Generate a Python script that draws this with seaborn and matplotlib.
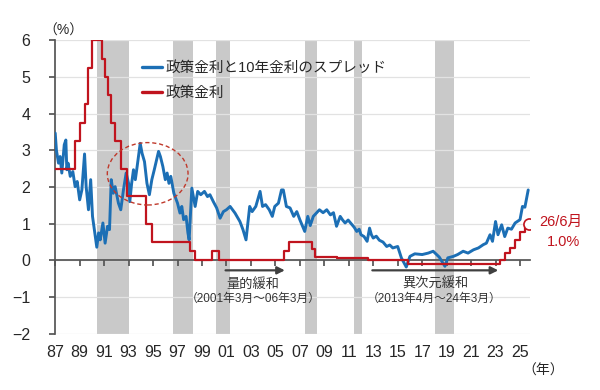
import matplotlib
matplotlib.use('Agg')
import matplotlib.pyplot as plt
from matplotlib.patches import Ellipse
import seaborn as sns
import pandas as pd

sns.set_theme(style="white")
plt.rcParams['font.family'] = ['Liberation Sans', 'Noto Sans CJK JP', 'DejaVu Sans']

# spread between policy rate and 10y yield (year, %)
spread_year = [
    1987.0, 1987.1, 1987.27, 1987.4, 1987.54, 1987.74, 1987.87, 1987.95, 1988.05, 1988.23,
    1988.44, 1988.63, 1988.8, 1989.0, 1989.18, 1989.4, 1989.53, 1989.72, 1989.9, 1990.05,
    1990.2, 1990.4, 1990.55, 1990.68, 1990.9, 1991.08, 1991.28, 1991.44, 1991.58, 1991.75,
    1991.9, 1992.17, 1992.36, 1992.58, 1992.8, 1993.0, 1993.1, 1993.25, 1993.4, 1993.55,
    1993.7, 1993.95, 1994.1, 1994.3, 1994.5, 1994.7, 1994.9, 1995.1, 1995.45, 1995.6,
    1995.8, 1996.0, 1996.15, 1996.3, 1996.45, 1996.7, 1997.0, 1997.2, 1997.35, 1997.5,
    1997.7, 1997.85, 1997.95, 1998.17, 1998.44, 1998.65, 1998.9, 1999.2, 1999.45, 1999.65,
    1999.93, 2000.2, 2000.48, 2000.75, 2001.0, 2001.3, 2001.7, 2002.1, 2002.35, 2002.6,
    2002.9, 2003.1, 2003.4, 2003.75, 2003.95, 2004.2, 2004.5, 2004.75, 2004.95, 2005.25,
    2005.5, 2005.65, 2005.9, 2006.2, 2006.5, 2006.75, 2007.0, 2007.4, 2007.65, 2007.85,
    2008.1, 2008.6, 2008.9, 2009.2, 2009.5, 2009.75, 2010.0, 2010.3, 2010.5, 2010.7,
    2010.95, 2011.2, 2011.45, 2011.65, 2011.85, 2012.0, 2012.25, 2012.5, 2012.7, 2012.85,
    2013.0, 2013.25, 2013.5, 2013.8, 2014.1, 2014.35, 2014.6, 2015.0, 2015.3, 2015.7,
    2016.0, 2016.4, 2017.0, 2017.5, 2017.9, 2018.4, 2018.86, 2019.1, 2019.55, 2019.9,
    2020.35, 2020.75, 2021.2, 2021.6, 2022.0, 2022.25, 2022.55, 2022.75, 2023.0, 2023.2,
    2023.5, 2023.75, 2024.0, 2024.3, 2024.6, 2025.0, 2025.2, 2025.4, 2025.67,
]
spread_value = [
    3.47, 3.0, 2.65, 2.83, 2.38, 3.15, 3.28, 2.47, 2.65, 2.29,
    2.42, 2.01, 2.15, 1.65, 1.92, 2.9, 2.01, 1.38, 2.2, 1.2,
    0.84, 0.36, 0.75, 0.56, 1.02, 0.47, 0.93, 0.84, 2.2, 1.83,
    2.01, 1.56, 1.38, 1.92, 2.38, 2.1, 1.6, 2.1, 2.47, 2.2,
    2.56, 3.19, 2.92, 2.69, 2.1, 1.79, 2.2, 2.47, 2.97, 2.83,
    2.56, 2.2, 2.38, 2.1, 2.29, 1.83, 1.56, 1.29, 1.47, 1.11,
    1.2, 0.75, 0.56, 1.97, 1.47, 1.88, 1.79, 1.88, 1.74, 1.79,
    1.6, 1.43, 1.15, 1.33, 1.38, 1.47, 1.29, 1.06, 0.84, 0.56,
    1.47, 1.33, 1.47, 1.88, 1.47, 1.52, 1.38, 1.2, 1.47, 1.56,
    1.92, 1.92, 1.47, 1.43, 1.2, 1.33, 1.11, 0.79, 1.2, 0.95,
    1.2, 1.38, 1.3, 1.38, 1.24, 1.3, 0.93, 1.2, 1.1, 1.02,
    1.1, 1.0, 0.9, 0.79, 0.85, 0.7, 0.65, 0.52, 0.88, 0.7,
    0.61, 0.66, 0.55, 0.5, 0.38, 0.42, 0.34, 0.38, 0.07, -0.18,
    0.11, 0.18, 0.16, 0.2, 0.25, 0.09, -0.16, 0.07, 0.11, 0.16,
    0.25, 0.2, 0.29, 0.34, 0.43, 0.47, 0.7, 0.52, 1.06, 0.7,
    0.97, 0.65, 0.88, 0.85, 1.02, 1.11, 1.47, 1.45, 1.92,
]

# policy rate steps (start year, %)
policy_year = [
    1987.0, 1988.6, 1989.0, 1989.4, 1989.7, 1990.0, 1990.8, 1991.05, 1991.35, 1991.6,
    1991.9, 1992.4, 1992.9, 1994.4, 1994.9, 1998.0, 1998.4, 1999.8, 2000.4, 2005.7,
    2006.1, 2008.0, 2008.2, 2010.0, 2012.6, 2015.85, 2023.35, 2023.76, 2024.17, 2024.58,
    2025.0, 2025.4, 2025.7,
]
policy_value = [
    2.5, 3.25, 3.75, 4.25, 5.25, 6.0, 5.5, 5.0, 4.5, 3.75,
    3.25, 2.5, 1.75, 1.0, 0.5, 0.25, 0.0, 0.25, 0.0, 0.25,
    0.5, 0.3, 0.1, 0.07, 0.0, -0.1, 0.0, 0.2, 0.35, 0.55,
    0.78, 1.0, 1.0,
]

recessions = [(1990.4, 1993.0), (1996.6, 1998.3), (2000.15, 2001.3),
              (2007.4, 2008.4), (2011.45, 2012.1), (2018.05, 2019.6)]

tick_years = list(range(1987, 2026, 2))
tick_labels = [f"{y % 100:02d}" for y in tick_years]

forecast_year = 2025.7
forecast_value = 1.0

BLUE = "#1c6fb5"
RED = "#c0141e"

spread = pd.DataFrame({"year": spread_year, "value": spread_value})
policy = pd.DataFrame({"year": policy_year, "value": policy_value})

fig = plt.figure(figsize=(6, 3.9), dpi=100)
ax = fig.add_axes([0.092, 0.144, 0.791, 0.753])

for a, b in recessions:
    ax.axvspan(a, b, color="#c9c9c9", lw=0, zorder=0)

for v in range(-2, 7):
    ax.axhline(v, color="#e2e2e2", lw=0.9, zorder=0.5)

sns.lineplot(data=spread, x="year", y="value", ax=ax, color=BLUE, lw=2.1,
             estimator=None, sort=False, label="政策金利と10年金利のスプレッド", zorder=3)
sns.lineplot(data=policy, x="year", y="value", ax=ax, color=RED, lw=1.6,
             estimator=None, sort=False, drawstyle="steps-post", label="政策金利", zorder=4)

ax.plot([forecast_year], [forecast_value], "o", mfc="white", mec=RED, ms=8, mew=1.2, zorder=5)
ax.text(forecast_year + 0.9, forecast_value + 0.05, "26/6月", color=RED, fontsize=10.5,
        ha="left", va="center")
ax.text(forecast_year + 1.5, forecast_value - 0.5, "1.0%", color=RED, fontsize=10.5,
        ha="left", va="center")

ell = Ellipse((1994.56, 2.36), 6.6, 1.7, fill=False, ec="#c0392b", ls=(0, (3, 2)), lw=1.0, zorder=6)
ax.add_patch(ell)

# QE arrows
arrow_kw = dict(arrowstyle="-|>", color="#404040", lw=1.6, mutation_scale=11)
ax.annotate("", xy=(2006.0, -0.27), xytext=(2000.7, -0.27), arrowprops=arrow_kw)
ax.annotate("", xy=(2023.45, -0.27), xytext=(2012.7, -0.27), arrowprops=arrow_kw)
ax.text(2003.2, -0.64, "量的緩和", fontsize=9.5, ha="center", va="center", color="#333333")
ax.text(2003.2, -1.04, "（2001年3月～06年3月）", fontsize=8.5, ha="center", va="center", color="#333333")
ax.text(2018.1, -0.64, "異次元緩和", fontsize=9.5, ha="center", va="center", color="#333333")
ax.text(2018.0, -1.04, "（2013年4月～24年3月）", fontsize=8.5, ha="center", va="center", color="#333333")

ax.set_xlim(1987.0, 2025.8)
ax.set_ylim(-2, 6)
ax.set_xlabel("")
ax.set_ylabel("")

for s in ["top", "right"]:
    ax.spines[s].set_visible(False)
ax.spines["left"].set_color("#555555")
ax.spines["bottom"].set_position(("data", 0))
ax.spines["bottom"].set_color("#555555")
ax.set_xticks(tick_years)
ax.tick_params(axis="x", bottom=True, length=4, color="#555555", labelbottom=False, direction="out")
ax.set_yticks(range(-2, 7))
ax.set_yticklabels([str(v).replace("-", "−") for v in range(-2, 7)])
ax.tick_params(axis="y", left=True, length=4, color="#555555", labelsize=11.5, pad=14)

sec = ax.secondary_xaxis(0.0)
sec.set_xticks(tick_years)
sec.set_xticklabels(tick_labels)
sec.tick_params(length=0, labelsize=11.5, pad=8)
sec.spines["bottom"].set_visible(False)

ax.text(-0.025, 1.01, "（%）", transform=ax.transAxes, fontsize=10, ha="left", va="bottom")
fig.text(0.905, 0.05, "（年）", fontsize=10, ha="center", va="center")

leg = ax.legend(loc="upper left", bbox_to_anchor=(0.17, 0.95), frameon=False,
                fontsize=10.5, handlelength=1.4, handletextpad=0.2, labelspacing=0.75,
                borderaxespad=0)
for line in leg.get_lines():
    line.set_linewidth(2.4)

fig.savefig("out.png", dpi=100)
